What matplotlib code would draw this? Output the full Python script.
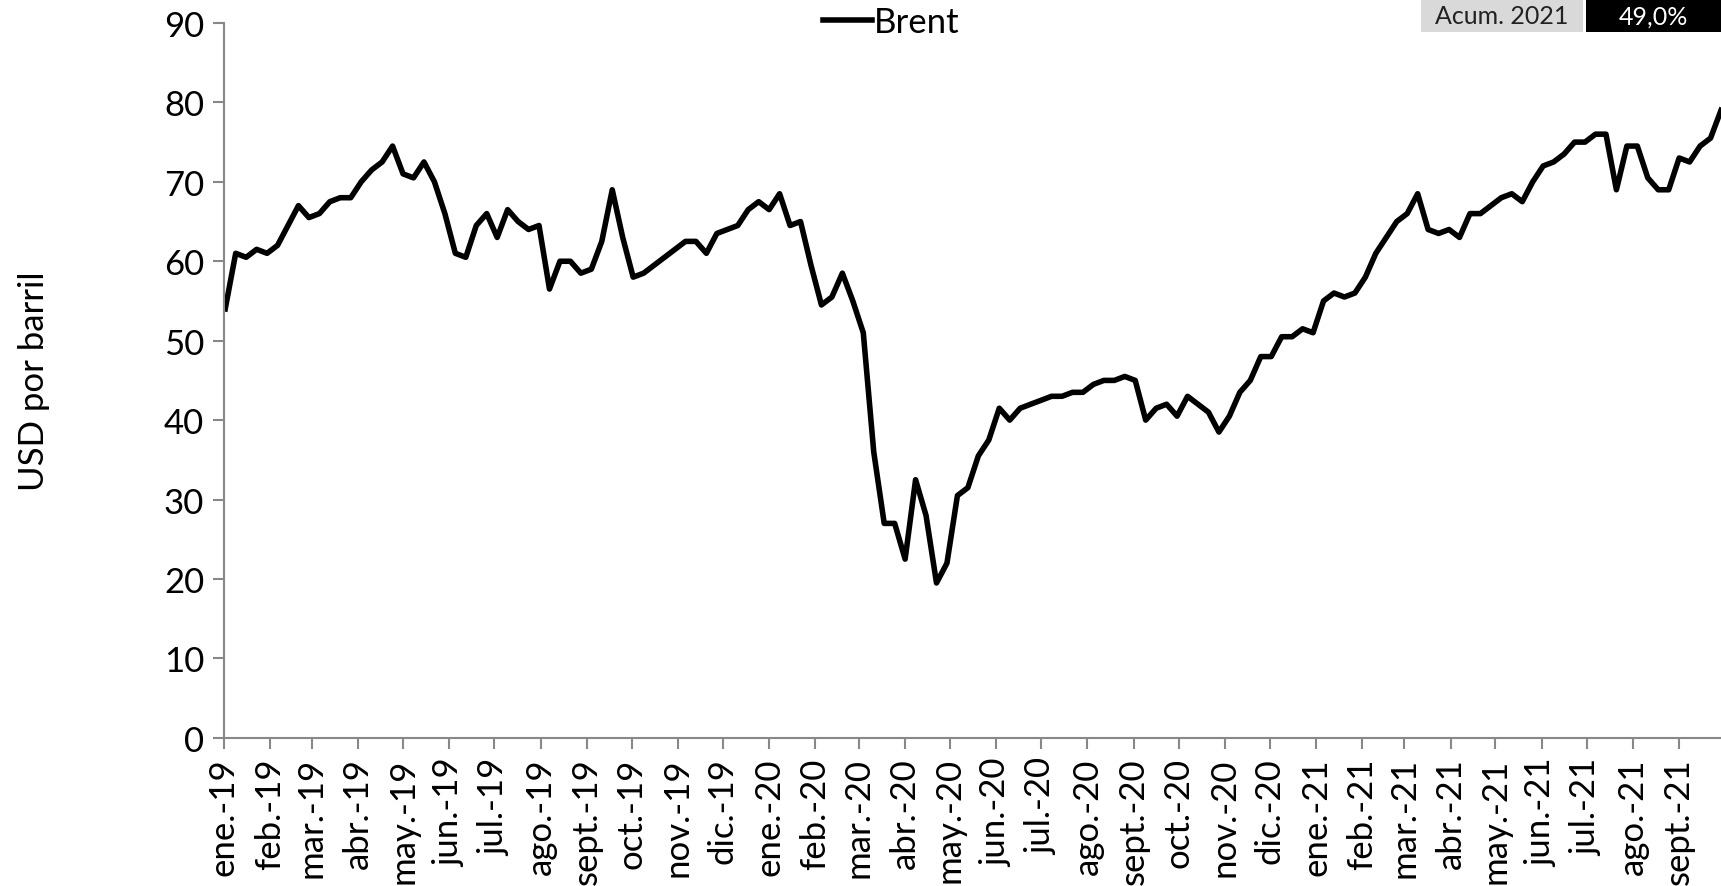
import numpy as np
import pandas as pd
import matplotlib
matplotlib.use("Agg")
import matplotlib.pyplot as plt
from matplotlib.patches import Rectangle

plt.rcParams['font.family'] = ['Lato', 'DejaVu Sans']

# Brent weekly prices (USD/barrel), Wednesdays from 2019-01-02
start_date = "2019-01-02"
brent = [
    54.0, 61.0, 60.5, 61.5, 61.0, 62.0, 64.5, 67.0, 65.5, 66.0,
    67.5, 68.0, 68.0, 70.0, 71.5, 72.5, 74.5, 71.0, 70.5, 72.5,
    70.0, 66.0, 61.0, 60.5, 64.5, 66.0, 63.0, 66.5, 65.0, 64.0,
    64.5, 56.5, 60.0, 60.0, 58.5, 59.0, 62.5, 69.0, 63.0, 58.0,
    58.5, 59.5, 60.5, 61.5, 62.5, 62.5, 61.0, 63.5, 64.0, 64.5,
    66.5, 67.5, 66.5, 68.5, 64.5, 65.0, 59.5, 54.5, 55.5, 58.5,
    55.0, 51.0, 36.0, 27.0, 27.0, 22.5, 32.5, 28.0, 19.5, 22.0,
    30.5, 31.5, 35.5, 37.5, 41.5, 40.0, 41.5, 42.0, 42.5, 43.0,
    43.0, 43.5, 43.5, 44.5, 45.0, 45.0, 45.5, 45.0, 40.0, 41.5,
    42.0, 40.5, 43.0, 42.0, 41.0, 38.5, 40.5, 43.5, 45.0, 48.0,
    48.0, 50.5, 50.5, 51.5, 51.0, 55.0, 56.0, 55.5, 56.0, 58.0,
    61.0, 63.0, 65.0, 66.0, 68.5, 64.0, 63.5, 64.0, 63.0, 66.0,
    66.0, 67.0, 68.0, 68.5, 67.5, 70.0, 72.0, 72.5, 73.5, 75.0,
    75.0, 76.0, 76.0, 69.0, 74.5, 74.5, 70.5, 69.0, 69.0, 73.0,
    72.5, 74.5, 75.5, 79.0,
]
dates = pd.date_range(start_date, periods=len(brent), freq="7D")

month_abbr = ["ene.", "feb.", "mar.", "abr.", "may.", "jun.",
              "jul.", "ago.", "sept.", "oct.", "nov.", "dic."]
tick_months = pd.date_range("2019-01-01", "2021-09-01", freq="MS")
tick_labels = [f"{month_abbr[d.month - 1]}-{d.year % 100}" for d in tick_months]

acum_label = "Acum. 2021"
acum_value = "49,0%"

fig = plt.figure(figsize=(17.21, 8.87), dpi=100)
ax = fig.add_axes([0.130, 0.167, 0.870, 0.806])

ax.plot(dates, brent, color="black", linewidth=4.0, solid_joinstyle="round",
        label="Brent")

ax.set_ylim(0, 90)
ax.set_yticks(range(0, 91, 10))
ax.set_xlim(pd.Timestamp("2019-01-01"), dates[-1])
ax.set_xticks(tick_months)
ax.set_xticklabels(tick_labels, rotation=90)

for s in ["top", "right"]:
    ax.spines[s].set_visible(False)
for s in ["left", "bottom"]:
    ax.spines[s].set_color("#888888")
    ax.spines[s].set_linewidth(1.5)
ax.tick_params(axis="both", which="both", direction="out", length=8,
               width=1.5, color="#888888", labelsize=25, pad=6)
ax.set_ylabel("USD por barril", fontsize=25, labelpad=82)

fig.legend(loc="center", bbox_to_anchor=(0.518, 0.974), frameon=False,
           fontsize=25, handlelength=1.4, handletextpad=0.05)

# accumulated change boxes (top right)
fig.patches.append(Rectangle((0.8257, 0.963), 0.0941, 0.037,
                             transform=fig.transFigure, facecolor="#d9d9d9",
                             edgecolor="none"))
fig.patches.append(Rectangle((0.9215, 0.963), 0.0785, 0.037,
                             transform=fig.transFigure, facecolor="black",
                             edgecolor="none"))
fig.text(0.8727, 0.981, acum_label, ha="center", va="center", fontsize=18,
         color="#222222")
fig.text(0.9607, 0.981, acum_value, ha="center", va="center", fontsize=18,
         color="white")

fig.savefig("out.png", dpi=100)
